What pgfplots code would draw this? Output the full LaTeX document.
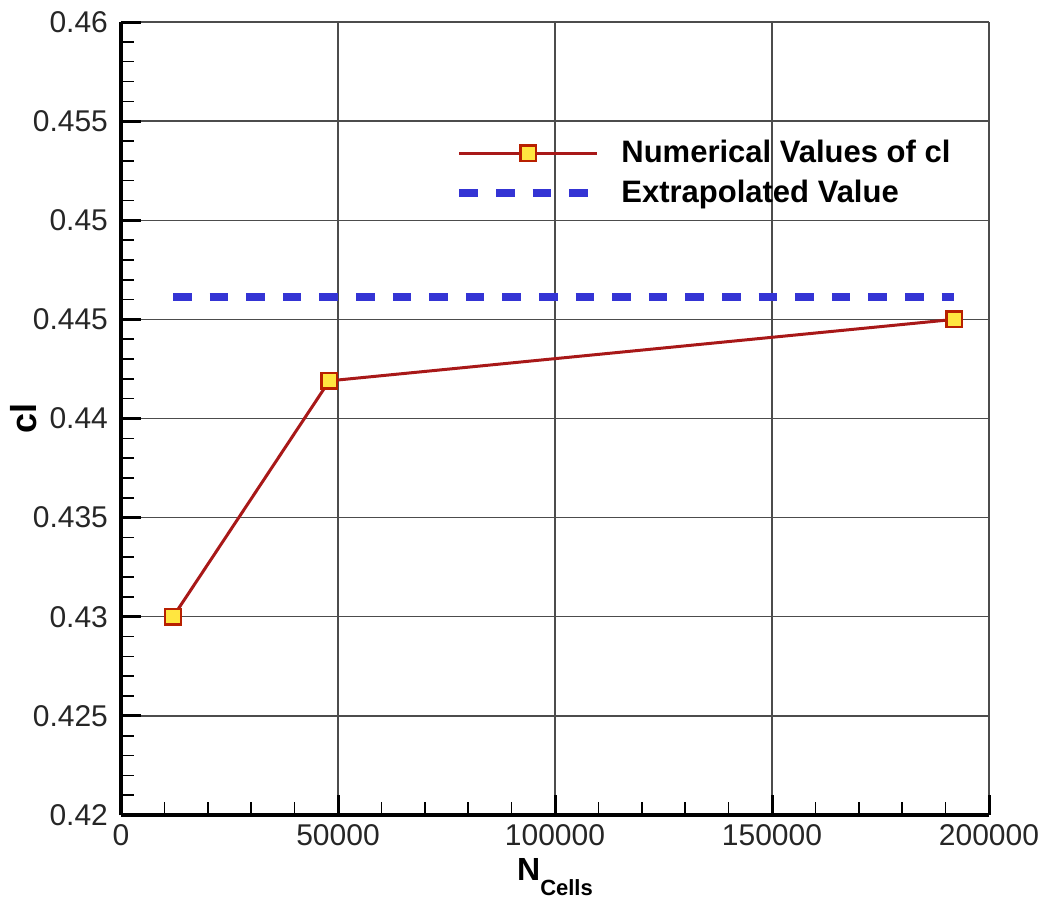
\documentclass[border=0pt]{standalone}
\usepackage{pgfplots}
\pgfplotsset{compat=1.18}
\usepackage{fontspec}
\setmainfont{Liberation Sans}
\definecolor{linered}{HTML}{A81818}
\definecolor{markedge}{HTML}{B82000}
\definecolor{markfill}{HTML}{FFE640}
\definecolor{dashblue}{HTML}{3434D4}
\begin{document}
\begin{tikzpicture}
\begin{axis}[
  at={(0pt,0pt)}, anchor=south west,
  scale only axis, width=434pt, height=396.5pt,
  xmin=0, xmax=200000, ymin=0.42, ymax=0.46,
  scaled x ticks=false, scaled y ticks=false,
  xtick={0,50000,100000,150000,200000},
  xticklabels={0,50000,100000,150000,200000},
  ytick={0.42,0.425,0.43,0.435,0.44,0.445,0.45,0.455,0.46},
  yticklabels={0.42,0.425,0.43,0.435,0.44,0.445,0.45,0.455,0.46},
  minor x tick num=4, minor y tick num=4,
  axis x line*=bottom, axis y line*=left,
  axis line style={line width=2pt},
  tick align=inside,
  major tick length=10pt, minor tick length=6.5pt,
  every major tick/.append style={line width=1.5pt, black},
  every minor tick/.append style={line width=0.8pt, black},
  xmajorgrids, ymajorgrids,
  major grid style={line width=0.7pt, black!70},
  tick label style={font=\fontsize{15}{15}\selectfont, text=black!85},
  xticklabel style={anchor=north, yshift=-1pt},
  yticklabel style={anchor=east, xshift=-3pt},
  xlabel={\fontsize{16}{16}\selectfont\bfseries N\raisebox{-7.5pt}{\fontsize{11}{11}\selectfont Cells}},
  xlabel style={at={([yshift=-32.5pt]axis description cs:0.5,0)}, anchor=base},
  ylabel={\fontsize{18}{18}\selectfont\bfseries cl},
  ylabel style={at={([xshift=-42pt]axis description cs:0,0.5)}, anchor=base, rotate=0},
  legend image code/.code={\draw[mark repeat=2,mark phase=2,#1] plot coordinates {(0pt,0pt) (34.5pt,0pt) (69pt,0pt)}; \path (77pt,0pt);},
  legend style={draw=none, fill=none, at={(rel axis cs:0,1)}, anchor=north west,
    xshift=167pt, yshift=-57pt, inner sep=0pt,
    font=\fontsize{15.5}{15.5}\selectfont\bfseries, row sep=3pt,
    nodes={inner sep=2pt}},
  legend cell align=left,
]
\addplot[color=linered, line width=1.5pt, mark=square*, mark size=3.9pt,
  mark options={draw=markedge, fill=markfill, line width=1.2pt, solid}]
  coordinates {(12000,0.4300) (48000,0.4419) (192000,0.4450)};
\addlegendentry{Numerical Values of cl}
\addplot[color=dashblue, line width=4pt, dash pattern=on 9.3pt off 9pt]
  coordinates {(12000,0.44613) (192000,0.44613)};
\addlegendentry{Extrapolated Value}
\end{axis}
\pgfresetboundingbox
\path (-60.5pt,-45pt) rectangle (463.5pt,407.5pt);
\end{tikzpicture}
\end{document}
